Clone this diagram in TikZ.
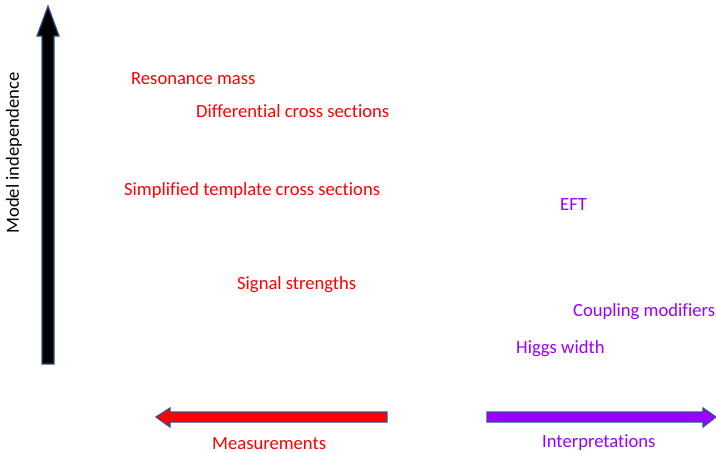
\documentclass[tikz,border=0pt]{standalone}
\usepackage{fontspec}
\setmainfont[Ligatures={NoCommon}]{Carlito}
\definecolor{myred}{RGB}{255,0,0}
\definecolor{mypurple}{RGB}{153,0,255}
\definecolor{edgeblue}{RGB}{47,82,143}
\begin{document}
\begin{tikzpicture}[x=1pt,y=-1pt,
  lbl/.style={anchor=west,inner sep=0pt,font=\fontsize{18.6}{20}\selectfont},
  redlbl/.style={lbl,text=myred},
  purplbl/.style={lbl,text=mypurple},
  arrowshape/.style={draw=edgeblue,line width=1.2pt,line join=miter}]
\useasboundingbox (0,0) rectangle (716,453);
% vertical axis arrow
\draw[arrowshape,fill=black] (42,364) -- (42,36) -- (37,36) -- (48,6) -- (59,36) -- (54,36) -- (54,364) -- cycle;
\node[lbl,anchor=center,rotate=90] (mi) at (14,153) {Model independence};
% measurements arrow
\draw[arrowshape,fill=myred] (387,412) -- (170,412) -- (170,408) -- (156,417) -- (170,427) -- (170,422) -- (387,422) -- cycle;
\node[redlbl] (meas) at (212,443.5) {Measurements};
% interpretations arrow
\draw[arrowshape,fill=mypurple] (487,412) -- (703,412) -- (703,408) -- (716,417) -- (703,427) -- (703,422) -- (487,422) -- cycle;
\node[purplbl] (interp) at (542,442.5) {Interpretations};
% red labels
\node[redlbl] (rm) at (131,78.5) {Resonance mass};
\node[redlbl] (dxs) at (196,111.5) {Differential cross sections};
\node[redlbl] (stxs) at (124,190.5) {Simplified template cross sections};
\node[redlbl] (ss) at (237,284.5) {Signal strengths};
% purple labels
\node[purplbl] (eft) at (560,204.5) {EFT};
\node[purplbl] (cm) at (573,311.5) {Coupling modifiers};
\node[purplbl] (hw) at (516,348.5) {Higgs width};
\end{tikzpicture}
\end{document}
